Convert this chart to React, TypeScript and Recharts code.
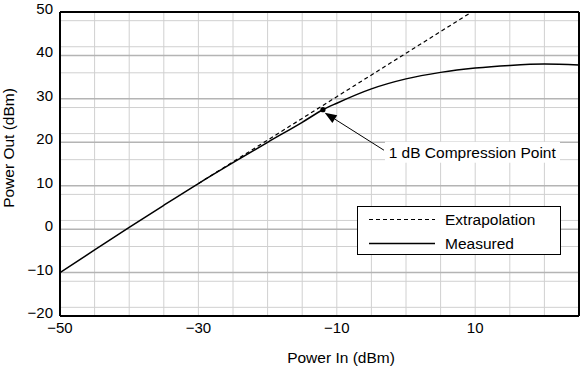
import React from 'react';
import {
  LineChart,
  Line,
  XAxis,
  YAxis,
  CartesianGrid,
  ReferenceLine,
  ReferenceDot,
  Legend,
} from 'recharts';

const FONT = '"Liberation Sans", Arial, Helvetica, sans-serif';

// measured power out vs power in (dBm)
const measuredIn = [-50, -45, -40, -35, -30, -25, -20, -15, -12, -10, -5, 0, 5, 10, 15, 20, 25];
const measuredOut = [-10, -4.8, 0.4, 5.5, 10.5, 15.3, 20.0, 24.6, 27.5, 29.0, 32.3, 34.6, 36.1, 37.1, 37.7, 38.0, 37.8];

// linear extrapolation of small-signal gain
const extrapIn = [-30, -20, -10, 0, 9.5];
const extrapOut = [10.5, 20.5, 30.5, 40.5, 50];

const xTicks = [-50, -30, -10, 10];
const yTicks = [-20, -10, 0, 10, 20, 30, 40, 50];
const gridX = [-45, -40, -35, -30, -25, -20, -15, -10, -5, 0, 5, 10, 15, 20];
const gridYMinor = [-18, -16, -14, -12, -8, -6, -4, -2, 2, 4, 6, 8, 12, 14, 16, 18, 22, 24, 26, 28, 32, 34, 36, 38, 42, 44, 46, 48];
const gridYMajor = [-10, 0, 10, 20, 30, 40];

const compression = { pin: -12, pout: 27.5 };

const series = [
  { key: 'extrap', name: 'Extrapolation', dash: '4 3' },
  { key: 'measured', name: 'Measured', dash: undefined as string | undefined },
];

const measuredData = measuredIn.map((p, i) => ({ pin: p, pout: measuredOut[i] }));
const extrapData = extrapIn.map((p, i) => ({ pin: p, pout: extrapOut[i] }));

const fmt = (v: number) => (v < 0 ? `\u2212${Math.abs(v)}` : `${v}`);

const XTick = (props: any) => {
  const { x, y, payload } = props;
  return (
    <text x={x} y={y} dy={10.5} textAnchor="middle" fontFamily={FONT} fontSize={15} fill="#000">
      {fmt(payload.value)}
    </text>
  );
};

const YTick = (props: any) => {
  const { x, y, payload } = props;
  return (
    <text x={x} y={y} dy={2} textAnchor="end" fontFamily={FONT} fontSize={15} fill="#000">
      {fmt(payload.value)}
    </text>
  );
};

const CompressionMark = (props: any) => {
  const { cx, cy } = props;
  const tipX = cx + 1.7;
  const tipY = cy + 3;
  const tailX = cx + 61;
  const tailY = cy + 40.5;
  const dx = tailX - tipX;
  const dy = tailY - tipY;
  const len = Math.sqrt(dx * dx + dy * dy);
  const ux = dx / len;
  const uy = dy / len;
  const bx = tipX + ux * 12;
  const by = tipY + uy * 12;
  const px = -uy * 4.5;
  const py = ux * 4.5;
  return (
    <g>
      <circle cx={cx} cy={cy} r={2.6} fill="#000" />
      <line x1={tailX} y1={tailY} x2={bx} y2={by} stroke="#000" strokeWidth={1} />
      <polygon points={`${tipX},${tipY} ${bx + px},${by + py} ${bx - px},${by - py}`} fill="#000" />
      <rect x={cx + 62} y={cy + 32} width={175} height={21} fill="#fff" />
      <text x={cx + 65.7} y={cy + 42.3} dominantBaseline="central" fontFamily={FONT} fontSize={15.5} fill="#000">
        1 dB Compression Point
      </text>
    </g>
  );
};

const LegendBox = () => (
  <div
    style={{
      boxSizing: 'border-box',
      width: 204,
      height: 49,
      border: '1.5px solid #000',
      background: '#fff',
    }}
  >
    <svg width={201} height={46} style={{ display: 'block' }}>
      {series.map((s, i) => (
        <g key={s.key}>
          <line
            x1={11}
            x2={77}
            y1={12.5 + i * 24}
            y2={12.5 + i * 24}
            stroke="#000"
            strokeWidth={s.dash ? 1.2 : 1.5}
            strokeDasharray={s.dash}
          />
          <text x={87} y={12.5 + i * 24} dominantBaseline="central" fontFamily={FONT} fontSize={15.5} fill="#000">
            {s.name}
          </text>
        </g>
      ))}
    </svg>
  </div>
);

export default function App() {
  return (
    <div style={{ position: 'absolute', left: 0, top: 0, background: '#fff' }}>
      <LineChart width={580} height={370} margin={{ top: 12, right: 1, left: 0, bottom: 0 }}>
        <CartesianGrid horizontalValues={gridYMinor} verticalValues={gridX} stroke="#d0d0d0" strokeWidth={1} />
        <CartesianGrid horizontalValues={gridYMajor} vertical={false} stroke="#b4b4b4" strokeWidth={1.5} />
        <XAxis
          type="number"
          dataKey="pin"
          domain={[-50, 25]}
          ticks={xTicks}
          allowDataOverflow
          height={54}
          tickLine={false}
          tickSize={0}
          tickMargin={6}
          tick={<XTick />}
          axisLine={{ stroke: '#000', strokeWidth: 2 }}
          label={{
            content: (p: any) => (
              <text
                x={p.viewBox.x + p.viewBox.width / 2 + 21.5}
                y={p.viewBox.y + 41}
                textAnchor="middle"
                dominantBaseline="central"
                fontFamily={FONT}
                fontSize={15.5}
                fill="#000"
              >
                Power In (dBm)
              </text>
            ),
          }}
        />
        <YAxis
          type="number"
          domain={[-20, 50]}
          ticks={yTicks}
          allowDataOverflow
          width={60}
          tickLine={false}
          tickSize={0}
          tickMargin={7}
          tick={<YTick />}
          axisLine={{ stroke: '#000', strokeWidth: 2 }}
          label={{
            content: (p: any) => {
              const cy = p.viewBox.y + p.viewBox.height / 2 - 16;
              return (
                <text
                  x={8.5}
                  y={cy}
                  transform={`rotate(-90 8.5 ${cy})`}
                  textAnchor="middle"
                  dominantBaseline="central"
                  fontFamily={FONT}
                  fontSize={15.5}
                  fill="#000"
                >
                  Power Out (dBm)
                </text>
              );
            },
          }}
        />
        <ReferenceLine y={50} stroke="#000" strokeWidth={2} />
        <ReferenceLine x={25} stroke="#000" strokeWidth={2} />
        <Line
          data={extrapData}
          dataKey="pout"
          name={series[0].name}
          type="linear"
          stroke="#000"
          strokeWidth={1.2}
          strokeDasharray={series[0].dash}
          dot={false}
          isAnimationActive={false}
        />
        <Line
          data={measuredData}
          dataKey="pout"
          name={series[1].name}
          type="monotone"
          stroke="#000"
          strokeWidth={1.5}
          dot={false}
          isAnimationActive={false}
        />
        <ReferenceDot x={compression.pin} y={compression.pout} r={2.6} shape={<CompressionMark />} />
        <Legend
          layout="vertical"
          align="center"
          verticalAlign="middle"
          content={<LegendBox />}
          wrapperStyle={{ position: 'absolute', left: 357, top: 206, width: 204, height: 49 }}
        />
      </LineChart>
    </div>
  );
}
